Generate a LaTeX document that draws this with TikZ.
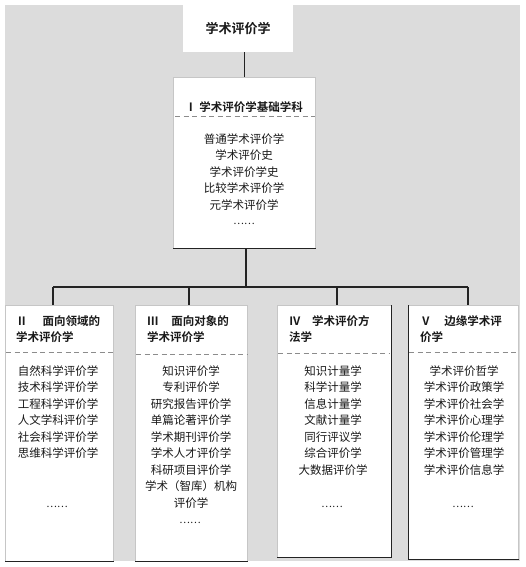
\documentclass[tikz,border=0pt]{standalone}
\usepackage{fontspec}
\setmainfont{Noto Sans CJK SC}[BoldFont={Noto Sans CJK SC Bold}]
\definecolor{bgray}{RGB}{220,220,220}
\definecolor{linec}{RGB}{35,35,35}
\definecolor{dashc}{RGB}{140,140,140}
\definecolor{txt}{RGB}{25,25,25}
\tikzset{
  box/.style={fill=white, draw=gray!45, line width=0.5pt, anchor=north west, inner sep=0pt},
  topbox/.style={fill=white, draw=none, anchor=north west, inner sep=0pt},
  title/.style={font=\fontsize{11.5}{16.5}\selectfont\bfseries, text=txt, inner sep=0pt, align=left},
  items/.style={font=\fontsize{11.5}{16.5}\selectfont, text=txt, inner sep=0pt, align=center, anchor=north},
  dots/.style={font=\fontsize{10}{12}\selectfont, text=txt, inner sep=0pt},
  sep/.style={dashc, line width=1pt, dash pattern=on 5pt off 3.5pt},
  conn/.style={linec, line width=1.4pt},
  shadowline/.style={linec, line width=1pt}
}
\begin{document}
\begin{tikzpicture}[x=1pt,y=-1pt]
\useasboundingbox (0,0) rectangle (525,567);
\fill[white] (0,0) rectangle (525,567);
\fill[bgray] (5,5) rectangle (520,561);

% top box
\node[topbox, minimum width=110pt, minimum height=47pt] (top) at (183,5) {};
\node[font=\fontsize{13}{15}\selectfont\bfseries, text=txt, inner sep=0pt] (toptxt) at (top.center) {学术评价学};

% box I
\node[box, minimum width=142pt, minimum height=171pt] (b1) at (173,77) {};
\draw[shadowline] (b1.south west) -- (b1.south east);
\node[title, anchor=center] (t1) at (244,107) {Ⅰ 学术评价学基础学科};
\draw[sep] (175,117) -- (315,117);
\node[items] (i1) at (244,133.5) {普通学术评价学\\学术评价史\\学术评价学史\\比较学术评价学\\元学术评价学};
\node[dots] (o1) at (244,224) {……};

% box II
\node[box, minimum width=108pt, minimum height=256pt] (b2) at (5,305) {};
\draw[shadowline] (b2.south west) -- (b2.south east);
\node[title, anchor=north west] (t2) at (16,315) {Ⅱ\hspace{1.3em}面向领域的\\学术评价学};
\draw[sep] (6,352) -- (113,352);
\node[items] (i2) at (58,365.5) {自然科学评价学\\技术科学评价学\\工程科学评价学\\人文学科评价学\\社会科学评价学\\思维科学评价学};
\node[dots] (o2) at (57,507) {……};

% box III
\node[box, minimum width=112pt, minimum height=256pt] (b3) at (135,305) {};
\draw[shadowline] (b3.south west) -- (b3.south east);
\node[title, anchor=north west] (t3) at (147,315) {Ⅲ\hspace{1.1em}面向对象的\\学术评价学};
\draw[sep] (136,354) -- (247,354);
\node[items] (i3) at (191,365.5) {知识评价学\\专利评价学\\研究报告评价学\\单篇论著评价学\\学术期刊评价学\\学术人才评价学\\科研项目评价学\\学术（智库）机构\\评价学};
\node[dots] (o3) at (190,523) {……};

% box IV
\node[box, minimum width=114pt, minimum height=252pt] (b4) at (277,305) {};
\draw[shadowline] (b4.south west) -- (b4.south east) -- (b4.north east);
\node[title, anchor=north west] (t4) at (289,315) {Ⅳ\hspace{1.0em}学术评价方\\法学};
\draw[sep] (278,353) -- (390,353);
\node[items] (i4) at (333,365.5) {知识计量学\\科学计量学\\信息计量学\\文献计量学\\同行评议学\\综合评价学\\大数据评价学};
\node[dots] (o4) at (332,507) {……};

% box V
\node[box, minimum width=110pt, minimum height=254pt] (b5) at (408,305) {};
\draw[shadowline] (b5.north west) -- (b5.south west) -- (b5.south east);
\node[title, anchor=north west] (t5) at (420,315) {Ⅴ\hspace{1.1em}边缘学术评\\价学};
\draw[sep] (409,352) -- (518,352);
\node[items] (i5) at (464,365.5) {学术评价哲学\\学术评价政策学\\学术评价社会学\\学术评价心理学\\学术评价伦理学\\学术评价管理学\\学术评价信息学};
\node[dots] (o5) at (463,507) {……};

% connectors
\draw[conn] (b1.north) -- (b1.north |- top.south);
\coordinate (hub) at (246,287);
\draw[conn] (b1.south -| hub) -- (hub);
\coordinate (d2) at (53,287);
\coordinate (d3) at (189,287);
\coordinate (d4) at (337,287);
\coordinate (d5) at (468,287);
\draw[conn] (d2) -- (d5);
\draw[conn] (d2) -- (d2 |- b2.north);
\draw[conn] (d3) -- (d3 |- b3.north);
\draw[conn] (d4) -- (d4 |- b4.north);
\draw[conn] (d5) -- (d5 |- b5.north);
\end{tikzpicture}
\end{document}
